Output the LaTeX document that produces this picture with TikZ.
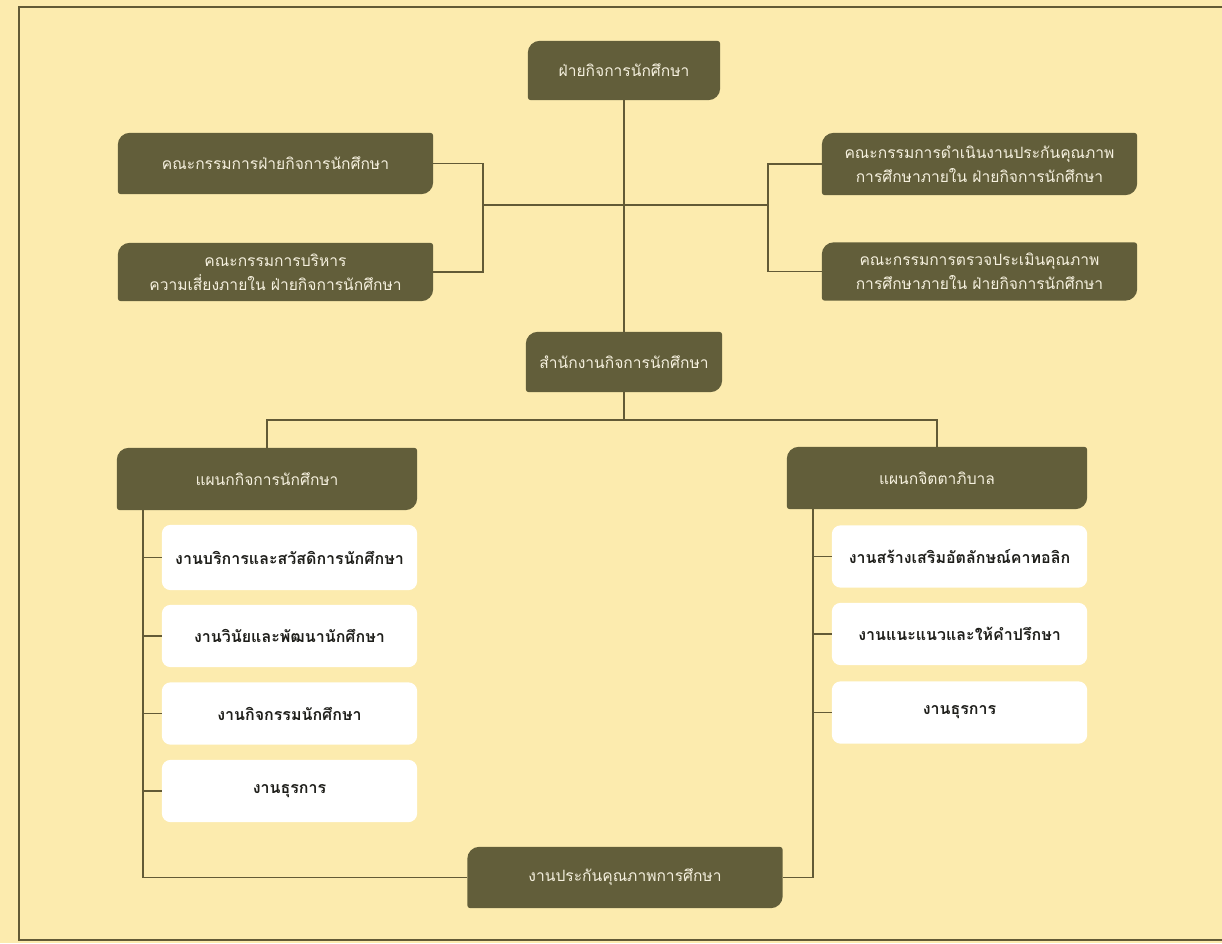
\documentclass[tikz,border=0pt]{standalone}
\usepackage{fontspec}
\newfontfamily\thaifont[Script=Thai]{Loma}
\usetikzlibrary{backgrounds}
\definecolor{bgc}{RGB}{252,235,174}
\definecolor{boxc}{RGB}{98,94,58}
\definecolor{linec}{RGB}{98,90,54}
\definecolor{txtc}{RGB}{245,240,222}
\definecolor{wtxt}{RGB}{30,30,26}
\newcommand{\dshape}[1]{%
  \fill[boxc] ([yshift=-12pt]#1.north west) arc[start angle=180,end angle=90,radius=12]
    -- ([xshift=-3pt]#1.north east) arc[start angle=90,end angle=0,radius=3]
    -- ([yshift=12pt]#1.south east) arc[start angle=0,end angle=-90,radius=12]
    -- ([xshift=3pt]#1.south west) arc[start angle=270,end angle=180,radius=3]
    -- cycle;}
\newcommand{\wshape}[1]{%
  \fill[white,rounded corners=9pt] (#1.north west) rectangle (#1.south east);}
\begin{document}
\begin{tikzpicture}[x=1pt,y=-1pt,
  dark/.style={text=txtc,font=\thaifont\fontsize{15.6}{24}\selectfont,align=center,inner sep=0pt,minimum height=60},
  wbox/.style={text=wtxt,font=\thaifont\bfseries\fontsize{16}{20}\selectfont,align=center,inner sep=0pt,minimum width=255,minimum height=62},
  conn/.style={draw=linec,line width=1.6pt}]
\useasboundingbox (0,0) rectangle (1222,943);
\clip (0,0) rectangle (1222,943);
% nodes
\node[dark,minimum width=192,minimum height=59] (top) at (624,70.5) {ฝ่ายกิจการนักศึกษา};
\node[dark,minimum width=315,minimum height=61] (L1) at (275.5,163.5) {คณะกรรมการฝ่ายกิจการนักศึกษา};
\node[dark,minimum width=315,minimum height=58] (L2) at (275.5,272) {คณะกรรมการบริหาร\\ความเสี่ยงภายใน ฝ่ายกิจการนักศึกษา};
\node[dark,minimum width=315,minimum height=62] (R1) at (979.5,164) {คณะกรรมการดำเนินงานประกันคุณภาพ\\การศึกษาภายใน ฝ่ายกิจการนักศึกษา};
\node[dark,minimum width=315,minimum height=58] (R2) at (979.5,271.5) {คณะกรรมการตรวจประเมินคุณภาพ\\การศึกษาภายใน ฝ่ายกิจการนักศึกษา};
\node[dark,minimum width=196,minimum height=60] (mid) at (624,362) {สำนักงานกิจการนักศึกษา};
\node[dark,minimum width=300,minimum height=62] (DL) at (267,479) {แผนกกิจการนักศึกษา};
\node[dark,minimum width=300,minimum height=62] (DR) at (937,478) {แผนกจิตตาภิบาล};
\node[wbox,minimum height=65] (WL1) at (289.5,557.5) {งานบริการและสวัสดิการนักศึกษา};
\node[wbox] (WL2) at (289.5,636) {งานวินัยและพัฒนานักศึกษา};
\node[wbox] (WL3) at (289.5,713.5) {งานกิจกรรมนักศึกษา};
\node[wbox] (WL4) at (289.5,791) {งานธุรการ};
\node[wbox] (WR1) at (959.5,556.5) {งานสร้างเสริมอัตลักษณ์คาทอลิก};
\node[wbox] (WR2) at (959.5,634) {งานแนะแนวและให้คำปรึกษา};
\node[wbox] (WR3) at (959.5,712.5) {งานธุรการ};
\node[dark,minimum width=315,minimum height=61] (B) at (625,877.5) {งานประกันคุณภาพการศึกษา};
% background shapes
\begin{scope}[on background layer]
  \fill[bgc] (0,0) rectangle (1222,943);
  \draw[linec,line width=1.8pt] (1240,7) -- (19,7) -- (19,940) -- (1240,940);
  \begin{scope}[y=1pt]
    \foreach \n in {top,L1,L2,R1,R2,mid,DL,DR,B}{\dshape{\n}}
  \end{scope}
  \foreach \n in {WL1,WL2,WL3,WL4,WR1,WR2,WR3}{\wshape{\n}}
\end{scope}
% junctions
\coordinate (jl) at (483,205);
\coordinate (jr) at (768,205);
\coordinate (bus) at (624,420);
\coordinate (dlv) at (143,510);
\coordinate (drv) at (813,509);
% connectors
\draw[conn] (top.south) -- (mid.north);
\draw[conn] (L1.east) -| (jl) |- (L2.east);
\draw[conn] (R1.west) -| (jr) |- (R2.west);
\draw[conn] (jl) -- (jr);
\draw[conn] (mid.south) -- (bus);
\draw[conn] (DL.north) |- (bus) -| (DR.north);
\draw[conn] (dlv) |- (B.west);
\draw[conn] (drv) |- (B.east);
\foreach \n in {WL1,WL2,WL3,WL4}{\draw[conn] (\n.west) -- (\n.west -| dlv);}
\foreach \n in {WR1,WR2,WR3}{\draw[conn] (\n.west) -- (\n.west -| drv);}
\end{tikzpicture}
\end{document}
